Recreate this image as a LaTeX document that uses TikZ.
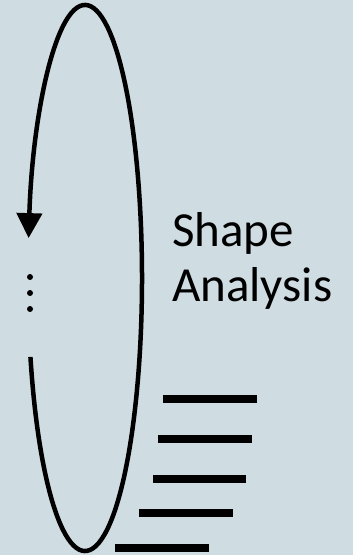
\documentclass[tikz,border=0pt]{standalone}
\usepackage{fontspec}
\setmainfont{Carlito}
\usetikzlibrary{arrows.meta}
\definecolor{bg}{RGB}{207,220,226}
\begin{document}
\begin{tikzpicture}[x=1pt,y=1pt,
  loop/.style={line width=4.5pt},
  bar/.style={line width=8pt},
  dotc/.style={fill=black,draw=none},
  lbl/.style={anchor=base west,inner sep=0pt,font=\fontsize{49}{55}\selectfont}]
\fill[bg] (0,0) rectangle (353,555);
\useasboundingbox (0,0) rectangle (353,555);
% loop with arrow
\draw[loop,-{Triangle[width=25pt,length=25pt]}] (85,277) ++(196.8:57 and 273) coordinate (gap)
  arc[start angle=196.8,end angle=531.6,x radius=57,y radius=273] coordinate (tip);
% dots
\fill[dotc] (30,278) circle (3);
\fill[dotc] (30,262) circle (3);
\fill[dotc] (30,246) circle (3);
% label
\node[lbl] (l1) at (172,308) {Shape};
\node[lbl] (l2) at (172,253) {Analysis};
% bars
\draw[bar] (163,156) -- (257,156);
\draw[bar] (158,116) -- (252,116);
\draw[bar] (153,76) -- (246,76);
\draw[bar] (139,42) -- (233,42);
\draw[bar] (115,7) -- (209,7);
\end{tikzpicture}
\end{document}
